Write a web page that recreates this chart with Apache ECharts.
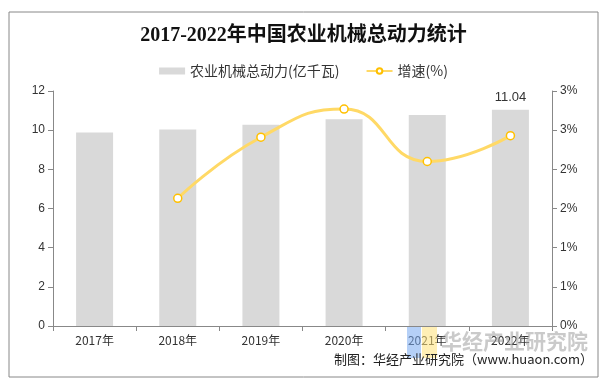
<!DOCTYPE html>
<html><head><meta charset="utf-8">
<script src="https://cdn.jsdelivr.net/npm/echarts@6/dist/echarts.min.js"></script>
<style>html,body{margin:0;padding:0;background:#fff}#c{width:607px;height:388px}</style>
</head><body><div id="c"></div>
<script>
const categories = ['2017年','2018年','2019年','2020年','2021年','2022年'];
const power = [9.88, 10.04, 10.28, 10.56, 10.78, 11.04];
const growth = [null, 1.63, 2.41, 2.77, 2.10, 2.43];
const leftTicks = {min: 0, max: 12, interval: 2};
const rightTicks = {min: 0, max: 3, interval: 0.5};

const chart = echarts.init(document.getElementById('c'), null, {renderer: 'canvas'});
const cjk = '"Noto Sans CJK SC", sans-serif';
chart.setOption({
  animation: false,
  backgroundColor: '#fff',
  title: {
    text: '2017-2022年中国农业机械总动力统计',
    left: 'center', top: 21,
    textStyle: {fontSize: 20, fontWeight: 'bold', color: '#111', fontFamily: '"Liberation Serif", "Noto Sans CJK SC", serif'}
  },
  legend: {
    top: 59, left: 'center', itemGap: 26,
    textStyle: {fontSize: 14, color: '#333', fontFamily: cjk},
    data: [
      {name: '农业机械总动力(亿千瓦)', icon: 'rect', itemStyle: {color: '#d9d9d9'}},
      {name: '增速(%)'}
    ],
    itemWidth: 26, itemHeight: 7
  },
  grid: {left: 53, right: 55, top: 91, bottom: 62},
  xAxis: {
    type: 'category', data: categories,
    axisLine: {lineStyle: {color: '#888'}},
    axisTick: {show: true, alignWithLabel: false, lineStyle: {color: '#888'}},
    axisLabel: {color: '#333', fontSize: 12, margin: 8, fontFamily: cjk}
  },
  yAxis: [
    {type: 'value', min: leftTicks.min, max: leftTicks.max, interval: leftTicks.interval,
     splitLine: {show: false},
     axisLine: {show: true, lineStyle: {color: '#888'}},
     axisTick: {show: true, lineStyle: {color: '#888'}},
     axisLabel: {color: '#333', fontSize: 12, fontFamily: 'Liberation Sans, Arial'}},
    {type: 'value', min: rightTicks.min, max: rightTicks.max, interval: rightTicks.interval,
     splitLine: {show: false},
     axisLine: {show: true, lineStyle: {color: '#888'}},
     axisTick: {show: true, lineStyle: {color: '#888'}},
     axisLabel: {color: '#333', fontSize: 12, fontFamily: 'Liberation Sans, Arial',
       formatter: v => v.toFixed(0) + '%'}}
  ],
  series: [
    {name: '农业机械总动力(亿千瓦)', type: 'bar', data: power.map((v, i) => i === power.length - 1 ? {value: v, label: {show: true}} : v),
     barWidth: 37, itemStyle: {color: '#d9d9d9'},
     label: {show: false, position: 'top', color: '#333', fontSize: 13, distance: 6, fontFamily: 'Liberation Sans, Arial'}},
    {name: '增速(%)', type: 'line', yAxisIndex: 1, data: growth, smooth: true,
     symbol: 'circle', symbolSize: 8, showSymbol: true,
     lineStyle: {color: '#ffd966', width: 3},
     itemStyle: {color: '#fff', borderColor: '#ffc000', borderWidth: 1.5}}
  ],
  graphic: [
    {type: 'rect', shape: {x: 9, y: 12, width: 589, height: 365}, style: {fill: 'none', stroke: '#888', lineWidth: 1}, z: -1},
    {type: 'rect', shape: {x: 407, y: 327, width: 14, height: 31}, style: {fill: 'rgba(120,170,240,0.55)'}, z: 10},
    {type: 'rect', shape: {x: 422, y: 327, width: 15, height: 31}, style: {fill: 'rgba(255,225,120,0.55)'}, z: 10},
    {type: 'text', left: 441, top: 331, style: {text: '华经产业研究院', fontSize: 21, fontWeight: 'bold', fill: 'rgba(150,150,150,0.5)', fontFamily: cjk}, z: 10},
    {type: 'text', right: 14, top: 353, style: {text: '制图：华经产业研究院（www.huaon.com）', fontSize: 13, fill: '#222', fontFamily: cjk}, z: 11}
  ]
});
</script></body></html>
